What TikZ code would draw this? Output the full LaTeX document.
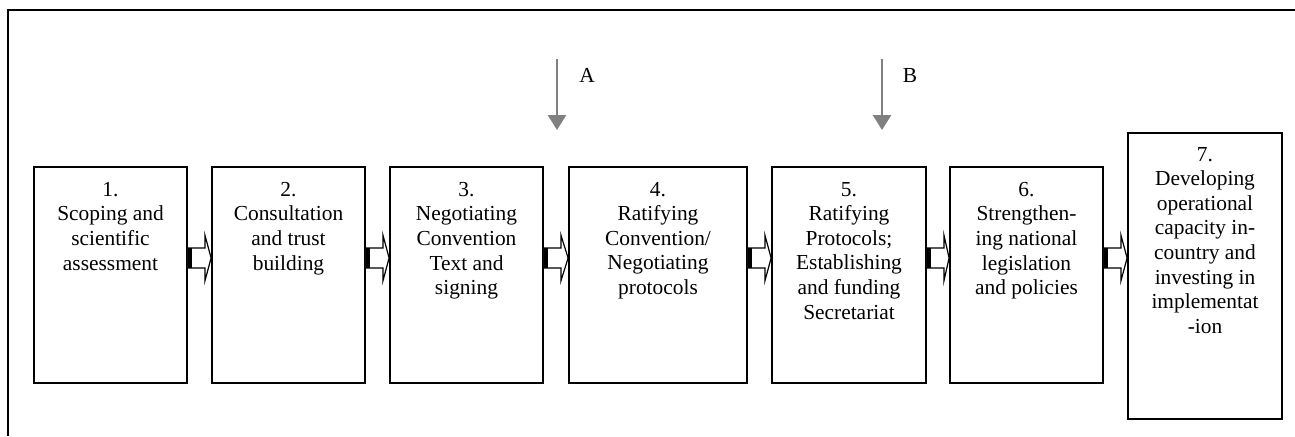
\documentclass[tikz,border=0pt]{standalone}
\usepackage{fontspec}
\setmainfont{Liberation Serif}
\usetikzlibrary{arrows.meta, positioning, calc}

\definecolor{markgray}{RGB}{128,128,128}

\tikzset{
  stage/.style={draw, line width=0.9pt, minimum width=76.5pt,
    minimum height=108pt, inner sep=0pt},
  stagetext/.style={align=center, inner sep=0pt, outer sep=0pt,
    font=\fontsize{10.7}{12.3}\selectfont},
  flow/.style={draw, line width=0.6pt, fill=white, line join=miter},
  marker/.style={draw=markgray, line width=1.3pt,
    -{Triangle[width=9pt,length=7.5pt]}},
}

\begin{document}
\begin{tikzpicture}[x=0.5pt, y=-0.5pt]
      \useasboundingbox (0,0) rectangle (1295,436);

      % Frame
      \draw[line width=1pt] (8,436) -- (8,10) -- (1295,10);

      % Nodes
      \node[stage] (s1) at (110.5,275) {};
      \node[stage] (s2) at (288.5,275) {};
      \node[stage] (s3) at (466.5,275) {};
      \node[stage, minimum width=89pt] (s4) at (658,275) {};
      \node[stage, minimum width=77pt] (s5) at (849,275) {};
      \node[stage] (s6) at (1026.5,275) {};
      \node[stage, minimum width=77pt, minimum height=143pt] (s7) at (1205,276) {};

      \node[stagetext, below=8pt of s1.north] (t1) {1.\\Scoping and\\scientific\\assessment};
      \node[stagetext, below=8pt of s2.north] (t2) {2.\\Consultation\\and trust\\building};
      \node[stagetext, below=8pt of s3.north] (t3) {3.\\Negotiating\\Convention\\Text and\\signing};
      \node[stagetext, below=8pt of s4.north] (t4) {4.\\Ratifying\\Convention/\\Negotiating\\protocols};
      \node[stagetext, below=8pt of s5.north] (t5) {5.\\Ratifying\\Protocols;\\Establishing\\and funding\\Secretariat};
      \node[stagetext, below=8pt of s6.north] (t6) {6.\\Strengthen-\\ing national\\legislation\\and policies};
      \node[stagetext, below=7.5pt of s7.north] (t7) {7.\\Developing\\operational\\capacity in-\\country and\\investing in\\implementat\\-ion};

      % Markers
      \coordinate (a0) at (557,59);
      \coordinate (a1) at (557,130);
      \coordinate (b0) at (882,59);
      \coordinate (b1) at (882,130);
      \node[stagetext, anchor=base] (la) at (587,82) {A};
      \node[stagetext, anchor=base] (lb) at (910,82) {B};

      % Edges
      \draw[marker] (a0) -- (a1);
      \draw[marker] (b0) -- (b1);
      \foreach \a/\b in {s1/s2, s2/s3, s3/s4, s4/s5, s5/s6, s6/s7} {
        \path (\a.east) ++(0,-17) coordinate (m);
        \draw[flow] ($(m)+(0,-10)$) -- ($(m)+(17,-10)$) -- ($(m)+(17,-23)$)
          -- (\b.west |- m) -- ($(m)+(17,23)$) -- ($(m)+(17,10)$)
          -- ($(m)+(0,10)$) -- cycle;
        \fill ($(m)+(0,-10)$) rectangle ($(m)+(4,10)$);
      }
\end{tikzpicture}
\end{document}
